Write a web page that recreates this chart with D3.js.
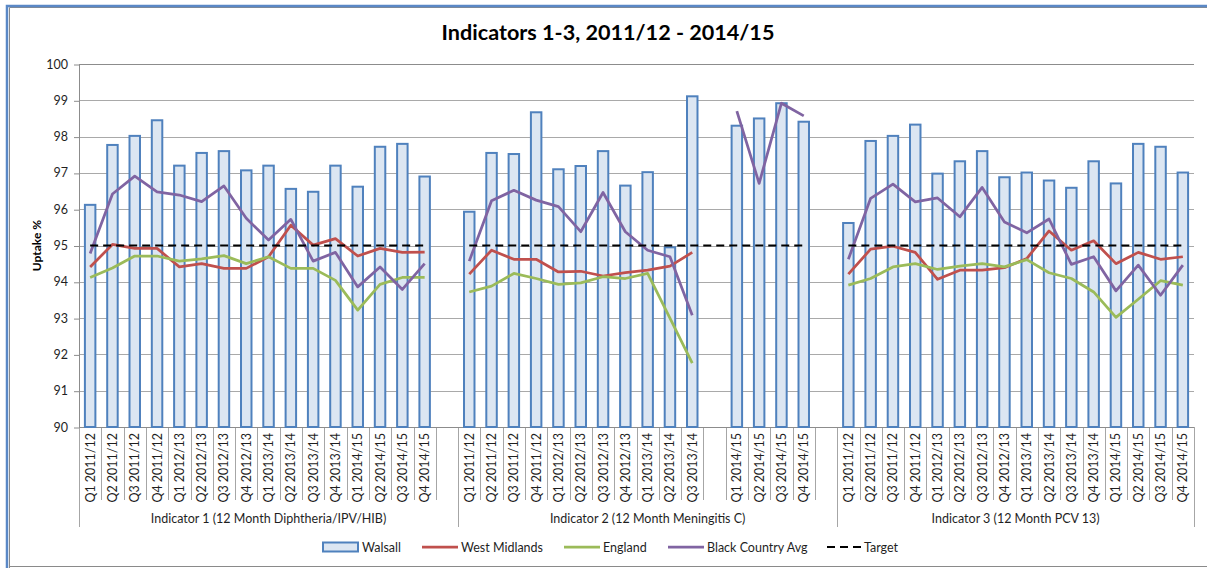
<!DOCTYPE html>
<html>
<head>
<meta charset="utf-8">
<script src="https://cdn.jsdelivr.net/npm/d3@7/dist/d3.min.js"></script>
<style>
  html, body { margin: 0; padding: 0; background: #fff; }
  svg { display: block; }
  text { font-family: Lato, "Liberation Sans", sans-serif; fill: #1f1f1f; }
</style>
</head>
<body>
<svg id="chart" width="1207" height="568"></svg>
<script>
// ---- chart data ----
const chartTitle = "Indicators 1-3, 2011/12 - 2014/15";
const yAxisTitle = "Uptake %";
const yTicks = [90, 91, 92, 93, 94, 95, 96, 97, 98, 99, 100];

const groupNames = [
  "Indicator 1 (12 Month Diphtheria/IPV/HIB)",
  "Indicator 2 (12 Month Meningitis C)",
  "Indicator 3 (12 Month PCV 13)"
];

// quarter labels per indicator; "" marks an empty spacer slot
const quartersInd1 = ["Q1 2011/12", "Q2 2011/12", "Q3 2011/12", "Q4 2011/12",
  "Q1 2012/13", "Q2 2012/13", "Q3 2012/13", "Q4 2012/13",
  "Q1 2013/14", "Q2 2013/14", "Q3 2013/14", "Q4 2013/14",
  "Q1 2014/15", "Q2 2014/15", "Q3 2014/15", "Q4 2014/15", ""];
const quartersInd2 = ["Q1 2011/12", "Q2 2011/12", "Q3 2011/12", "Q4 2011/12",
  "Q1 2012/13", "Q2 2012/13", "Q3 2012/13", "Q4 2012/13",
  "Q1 2013/14", "Q2 2013/14", "Q3 2013/14", "",
  "Q1 2014/15", "Q2 2014/15", "Q3 2014/15", "Q4 2014/15", ""];
const quartersInd3 = ["Q1 2011/12", "Q2 2011/12", "Q3 2011/12", "Q4 2011/12",
  "Q1 2012/13", "Q2 2012/13", "Q3 2012/13", "Q4 2012/13",
  "Q1 2013/14", "Q2 2013/14", "Q3 2013/14", "Q4 2013/14",
  "Q1 2014/15", "Q2 2014/15", "Q3 2014/15", "Q4 2014/15"];

// series values, one entry per slot (indicator 1 | indicator 2 | indicator 3)
const walsall = [
  96.12, 97.77, 98.02, 98.45, 97.2, 97.55, 97.6, 97.07, 97.2, 96.56, 96.48, 97.2, 96.62, 97.72, 97.8, 96.9, null,
  95.93, 97.55, 97.52, 98.67, 97.1, 97.19, 97.6, 96.65, 97.02, 94.95, 99.11, null, 98.3, 98.5, 98.92, 98.41, null,
  95.62, 97.88, 98.02, 98.33, 96.98, 97.32, 97.6, 96.88, 97.01, 96.79, 96.59, 97.32, 96.71, 97.8, 97.72, 97.01
];
const westMidlands = [
  94.41, 95.03, 94.92, 94.92, 94.41, 94.5, 94.37, 94.37, 94.69, 95.56, 95.01, 95.19, 94.71, 94.92, 94.81, 94.82, null,
  94.21, 94.87, 94.62, 94.62, 94.27, 94.29, 94.16, 94.25, 94.32, 94.43, 94.81, null, null, null, null, null, null,
  94.21, 94.9, 94.98, 94.81, 94.07, 94.32, 94.32, 94.39, 94.64, 95.4, 94.87, 95.13, 94.5, 94.81, 94.62, 94.69
];
const england = [
  94.12, 94.38, 94.71, 94.71, 94.57, 94.63, 94.72, 94.5, 94.69, 94.37, 94.37, 94.04, 93.22, 93.93, 94.12, 94.12, null,
  93.72, 93.88, 94.23, 94.09, 93.93, 93.97, 94.14, 94.09, 94.23, 93.0, 91.76, null, null, null, null, null, null,
  93.91, 94.09, 94.41, 94.5, 94.34, 94.43, 94.5, 94.41, 94.61, 94.25, 94.09, 93.72, 93.02, 93.52, 94.03, 93.91
];
const blackCountryAvg = [
  94.78, 96.42, 96.91, 96.48, 96.39, 96.21, 96.64, 95.75, 95.15, 95.72, 94.57, 94.81, 93.86, 94.41, 93.79, 94.5, null,
  94.57, 96.23, 96.52, 96.25, 96.07, 95.38, 96.46, 95.38, 94.87, 94.69, 93.08, null, 98.7, 96.71, 98.92, 98.57, null,
  94.62, 96.3, 96.69, 96.2, 96.31, 95.79, 96.6, 95.65, 95.35, 95.73, 94.48, 94.69, 93.75, 94.46, 93.63, 94.46
];
const target = [
  95, 95, 95, 95, 95, 95, 95, 95, 95, 95, 95, 95, 95, 95, 95, 95, null,
  95, 95, 95, 95, 95, 95, 95, 95, 95, 95, 95, 95, 95, 95, 95, 95, null,
  95, 95, 95, 95, 95, 95, 95, 95, 95, 95, 95, 95, 95, 95, 95, 95
];
const legendNames = ["Walsall", "West Midlands", "England", "Black Country Avg", "Target"];

// ---- layout ----
const svg = d3.select("#chart");
const W = 1207, H = 568;
const plot = { left: 79, right: 1194, top: 64, bottom: 427 };

const groupQuarters = [quartersInd1, quartersInd2, quartersInd3];
const slots = [];
groupQuarters.forEach((qs, g) => qs.forEach((label, k) => slots.push({ g, label, idx: slots.length })));

const x = d3.scaleBand().domain(slots.map(s => s.idx)).range([plot.left, plot.right]).padding(0);
const y = d3.scaleLinear().domain([90, 100]).range([plot.bottom, plot.top]);
const cx = i => x(i) + x.bandwidth() / 2;
const snap = v => Math.round(v) + 0.5;

// outer frame
svg.append("path")
  .attr("d", `M${9.5},${H + 2} V${7.5} H${W + 2} M${9.5},${566.5} H${W + 2}`)
  .attr("fill", "none").attr("stroke", "#8a8a8a").attr("stroke-width", 1);
svg.append("path")
  .attr("d", `M${7},${H + 2} V${6} H${W + 2}`)
  .attr("fill", "none").attr("stroke", "#5a88c6").attr("stroke-width", 2.5);

// title
svg.append("text")
  .attr("x", 608).attr("y", 40)
  .attr("text-anchor", "middle")
  .attr("font-size", 21.6).attr("font-weight", 700)
  .style("fill", "#000")
  .text(chartTitle);

// horizontal gridlines
const grid = svg.append("g");
grid.selectAll("line").data(yTicks).join("line")
  .attr("x1", plot.left).attr("x2", plot.right)
  .attr("y1", d => snap(y(d))).attr("y2", d => snap(y(d)))
  .attr("stroke", d => d === 100 ? "#8c8c8c" : "#a9a9a9").attr("stroke-width", 1);

// y axis
const yAxis = d3.axisLeft(y).tickValues(yTicks).tickSize(5).tickPadding(6).tickFormat(d3.format("d"));
const yAxisG = svg.append("g").attr("transform", `translate(${snap(plot.left) - 0.5},0)`).call(yAxis);
yAxisG.select(".domain").remove();
yAxisG.selectAll(".tick line").attr("stroke", "#8c8c8c").attr("transform", "translate(0,0.5)");
yAxisG.selectAll(".tick text")
  .attr("font-family", "Lato, sans-serif").attr("font-size", 12.5).style("fill", "#1f1f1f");
svg.append("line")
  .attr("x1", snap(plot.left)).attr("x2", snap(plot.left))
  .attr("y1", plot.top).attr("y2", 527)
  .attr("stroke", "#8c8c8c");

svg.append("text")
  .attr("transform", `translate(41,${(plot.top + plot.bottom) / 2}) rotate(-90)`)
  .attr("text-anchor", "middle")
  .attr("font-size", 12).attr("font-weight", 700)
  .style("fill", "#000")
  .text(yAxisTitle);

// category axis: slot separators, quarter labels, indicator labels
const catG = svg.append("g");
const boundaries = d3.range(slots.length + 1).map(i => plot.left + i * x.bandwidth());
const groupStarts = [0, quartersInd1.length, quartersInd1.length + quartersInd2.length, slots.length];
catG.selectAll("line.sep").data(boundaries).join("line")
  .attr("class", "sep")
  .attr("x1", d => snap(d)).attr("x2", d => snap(d))
  .attr("y1", plot.bottom).attr("y2", (d, i) => groupStarts.includes(i) ? 527 : 500)
  .attr("stroke", "#a6a6a6");
svg.append("line")
  .attr("x1", plot.left).attr("x2", plot.right)
  .attr("y1", snap(plot.bottom)).attr("y2", snap(plot.bottom))
  .attr("stroke", "#8c8c8c");

catG.selectAll("text.q").data(slots.filter(s => s.label)).join("text")
  .attr("class", "q")
  .attr("transform", d => `translate(${cx(d.idx)},${433}) rotate(-90)`)
  .attr("text-anchor", "end")
  .attr("dy", "0.36em")
  .attr("font-size", 12.5)
  .text(d => d.label);

catG.selectAll("text.grp").data(groupNames).join("text")
  .attr("class", "grp")
  .attr("x", (d, g) => (boundaries[groupStarts[g]] + boundaries[groupStarts[g + 1]]) / 2)
  .attr("y", 523)
  .attr("text-anchor", "middle")
  .attr("font-size", 12.5)
  .text(d => d);

// Walsall bars
const barW = x.bandwidth() * 0.47;
svg.append("g").selectAll("rect").data(walsall.map((v, i) => ({ v, i })).filter(d => d.v != null)).join("rect")
  .attr("x", d => cx(d.i) - barW / 2)
  .attr("y", d => y(d.v))
  .attr("width", barW)
  .attr("height", d => y(90) - y(d.v))
  .attr("fill", "#dce6f2")
  .attr("stroke", "#4f81bd")
  .attr("stroke-width", 2);

// line series
const lineGen = d3.line()
  .defined(d => d.v != null)
  .x(d => cx(d.i))
  .y(d => y(d.v));
const lineSeries = [
  { values: westMidlands, color: "#c0504d", width: 2.75, dash: null },
  { values: england, color: "#9bbb59", width: 2.75, dash: null },
  { values: blackCountryAvg, color: "#8064a2", width: 2.75, dash: null },
  { values: target, color: "#000000", width: 2, dash: "8,5" }
];
svg.append("g").selectAll("path").data(lineSeries).join("path")
  .attr("d", s => lineGen(s.values.map((v, i) => ({ v, i }))))
  .attr("fill", "none")
  .attr("stroke", s => s.color)
  .attr("stroke-width", s => s.width)
  .attr("stroke-linejoin", "round")
  .attr("stroke-dasharray", s => s.dash);

// legend
const legendY = 547;
const legendItems = [
  { name: legendNames[0], x: 323, type: "bar" },
  { name: legendNames[1], x: 422, type: "line", color: "#c0504d" },
  { name: legendNames[2], x: 564, type: "line", color: "#9bbb59" },
  { name: legendNames[3], x: 668, type: "line", color: "#8064a2" },
  { name: legendNames[4], x: 827, type: "dash", color: "#000" }
];
const lg = svg.append("g").selectAll("g").data(legendItems).join("g")
  .attr("transform", d => `translate(${d.x},${legendY})`);
lg.filter(d => d.type === "bar").append("rect")
  .attr("x", 0).attr("y", -4.5).attr("width", 35).attr("height", 9)
  .attr("fill", "#dce6f2").attr("stroke", "#4f81bd").attr("stroke-width", 2);
lg.filter(d => d.type !== "bar").append("line")
  .attr("x1", 0).attr("x2", 36).attr("y1", 0).attr("y2", 0)
  .attr("stroke", d => d.color)
  .attr("stroke-width", d => d.type === "dash" ? 2 : 2.75)
  .attr("stroke-dasharray", d => d.type === "dash" ? "8,5" : null);
lg.append("text")
  .attr("x", d => d.type === "dash" ? 37 : 39)
  .attr("y", 0).attr("dy", "0.36em")
  .attr("font-size", 12.5)
  .text(d => d.name);
</script>
</body>
</html>
